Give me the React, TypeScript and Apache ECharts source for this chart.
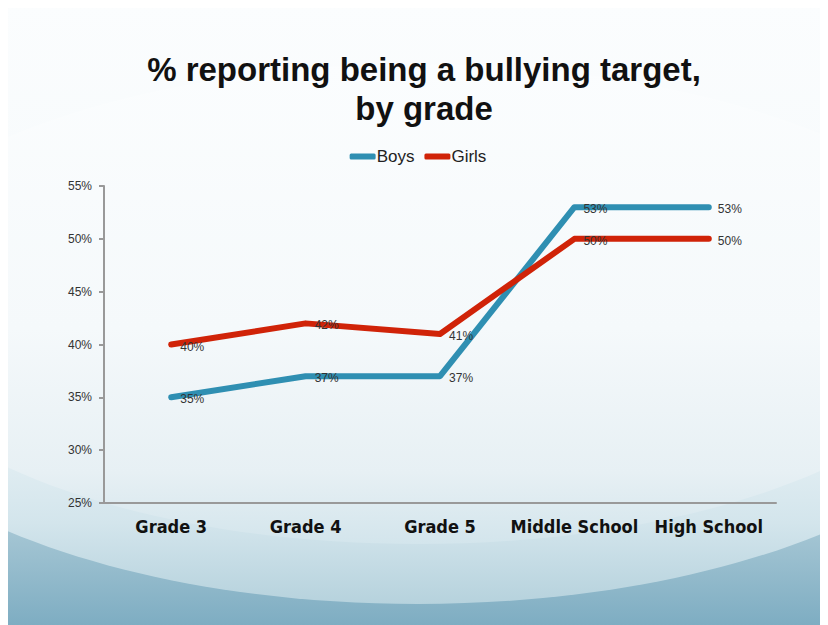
import React, { useEffect, useRef } from "react";
import * as echarts from "echarts";

const categories = ["Grade 3", "Grade 4", "Grade 5", "Middle School", "High School"];
const boys = [35, 37, 37, 53, 53];
const girls = [40, 42, 41, 50, 50];
const yTicks = { min: 25, max: 55, interval: 5 };
const titleText = "% reporting being a bullying target,\nby grade";

export default function App() {
  const ref = useRef<HTMLDivElement>(null);
  useEffect(() => {
    if (!ref.current) return;
    const chart = echarts.init(ref.current, undefined, { renderer: "svg" });
    const W = 820, H = 621;
    const label = {
      show: true,
      position: "right",
      distance: 9,
      offset: [0, 2],
      formatter: (p: any) => p.value + "%",
      color: "#333",
      fontSize: 12,
      fontFamily: "Liberation Sans, Arial, sans-serif",
    };
    chart.setOption({
      animation: false,
      graphic: [
        {
          type: "rect",
          z: -10,
          silent: true,
          shape: { x: 0, y: 0, width: W, height: H },
          style: {
            fill: new echarts.graphic.LinearGradient(0, 0, 0, 1, [
              { offset: 0, color: "#fbfdfe" },
              { offset: 0.6, color: "#f3f8fa" },
              { offset: 0.75, color: "#d6e7ed" },
              { offset: 1, color: "#7aaabf" },
            ]),
          },
        },
        {
          type: "rect",
          z: -9,
          silent: true,
          shape: { x: 0, y: 460, width: W, height: H - 460 },
          style: {
            fill: new echarts.graphic.LinearGradient(0, 0, 0, 1, [
              { offset: 0, color: "#c2d9e2" },
              { offset: 0.5, color: "#9fc2d1" },
              { offset: 1, color: "#7eadc2" },
            ]),
          },
        },
        {
          type: "ellipse",
          z: -8,
          silent: true,
          shape: { cx: 410, cy: 330, rx: 600, ry: 270 },
          style: {
            fill: new echarts.graphic.LinearGradient(0, 0, 0, 1, [
              { offset: 0, color: "#fbfdfe" },
              { offset: 0.3, color: "#f8fbfc" },
              { offset: 0.6, color: "#f1f7f9" },
              { offset: 0.85, color: "#d3e5ec" },
              { offset: 1, color: "#b6d2dd" },
            ]),
          },
        },
        {
          type: "ellipse",
          z: -7,
          silent: true,
          shape: { cx: 410, cy: 300, rx: 560, ry: 240 },
          style: {
            fill: new echarts.graphic.LinearGradient(0, 0, 0, 1, [
              { offset: 0, color: "#fbfdfe" },
              { offset: 0.55, color: "#f5f9fb" },
              { offset: 0.85, color: "#e7f0f4" },
              { offset: 1, color: "#d3e5ec" },
            ]),
          },
        },
        {
          type: "text",
          z: 5,
          x: 416,
          y: 46,
          style: {
            text: titleText,
            textAlign: "center",
            fontSize: 33,
            fontWeight: "bold",
            lineHeight: 39,
            fill: "#111",
            fontFamily: "Liberation Sans, Arial, sans-serif",
          },
        },
      ],
      legend: {
        top: 139,
        left: "center",
        itemWidth: 26,
        itemHeight: 6,
        itemGap: 10,
        icon: "roundRect",
        textStyle: { fontSize: 17, color: "#222", fontFamily: "Liberation Sans, Arial, sans-serif", padding: [0, 0, 0, -4] },
        data: ["Boys", "Girls"],
      },
      grid: { left: 96, right: 52, top: 182, bottom: 122, containLabel: false },
      xAxis: {
        type: "category",
        data: categories,
        boundaryGap: true,
        axisLine: { lineStyle: { color: "#999", width: 2 } },
        axisTick: { show: false },
        axisLabel: {
          interval: 0,
          margin: 14,
          fontSize: 18,
          fontWeight: "bold",
          color: "#111",
          fontFamily: "DejaVu Sans Condensed, Liberation Sans Narrow, sans-serif",
        },
      },
      yAxis: {
        type: "value",
        min: yTicks.min,
        max: yTicks.max,
        interval: yTicks.interval,
        splitLine: { show: false },
        axisLine: { show: true, lineStyle: { color: "#999", width: 2 } },
        axisTick: { show: true, length: 5, lineStyle: { color: "#999", width: 2 } },
        axisLabel: {
          formatter: "{value}%",
          fontSize: 12,
          color: "#333",
          margin: 12,
          fontFamily: "Liberation Sans, Arial, sans-serif",
        },
      },
      series: [
        {
          name: "Boys",
          type: "line",
          data: boys,
          symbol: "circle",
          symbolSize: 0.1,
          itemStyle: { color: "#2f8fb2" },
          lineStyle: { width: 6, color: "#2f8fb2", cap: "round", join: "round" },
          label,
        },
        {
          name: "Girls",
          type: "line",
          data: girls,
          symbol: "circle",
          symbolSize: 0.1,
          itemStyle: { color: "#d02308" },
          lineStyle: { width: 6, color: "#d02308", cap: "round", join: "round" },
          label,
        },
      ],
    });
    return () => chart.dispose();
  }, []);
  return <div ref={ref} style={{ width: 820, height: 621, marginTop: -4 }} />;
}
